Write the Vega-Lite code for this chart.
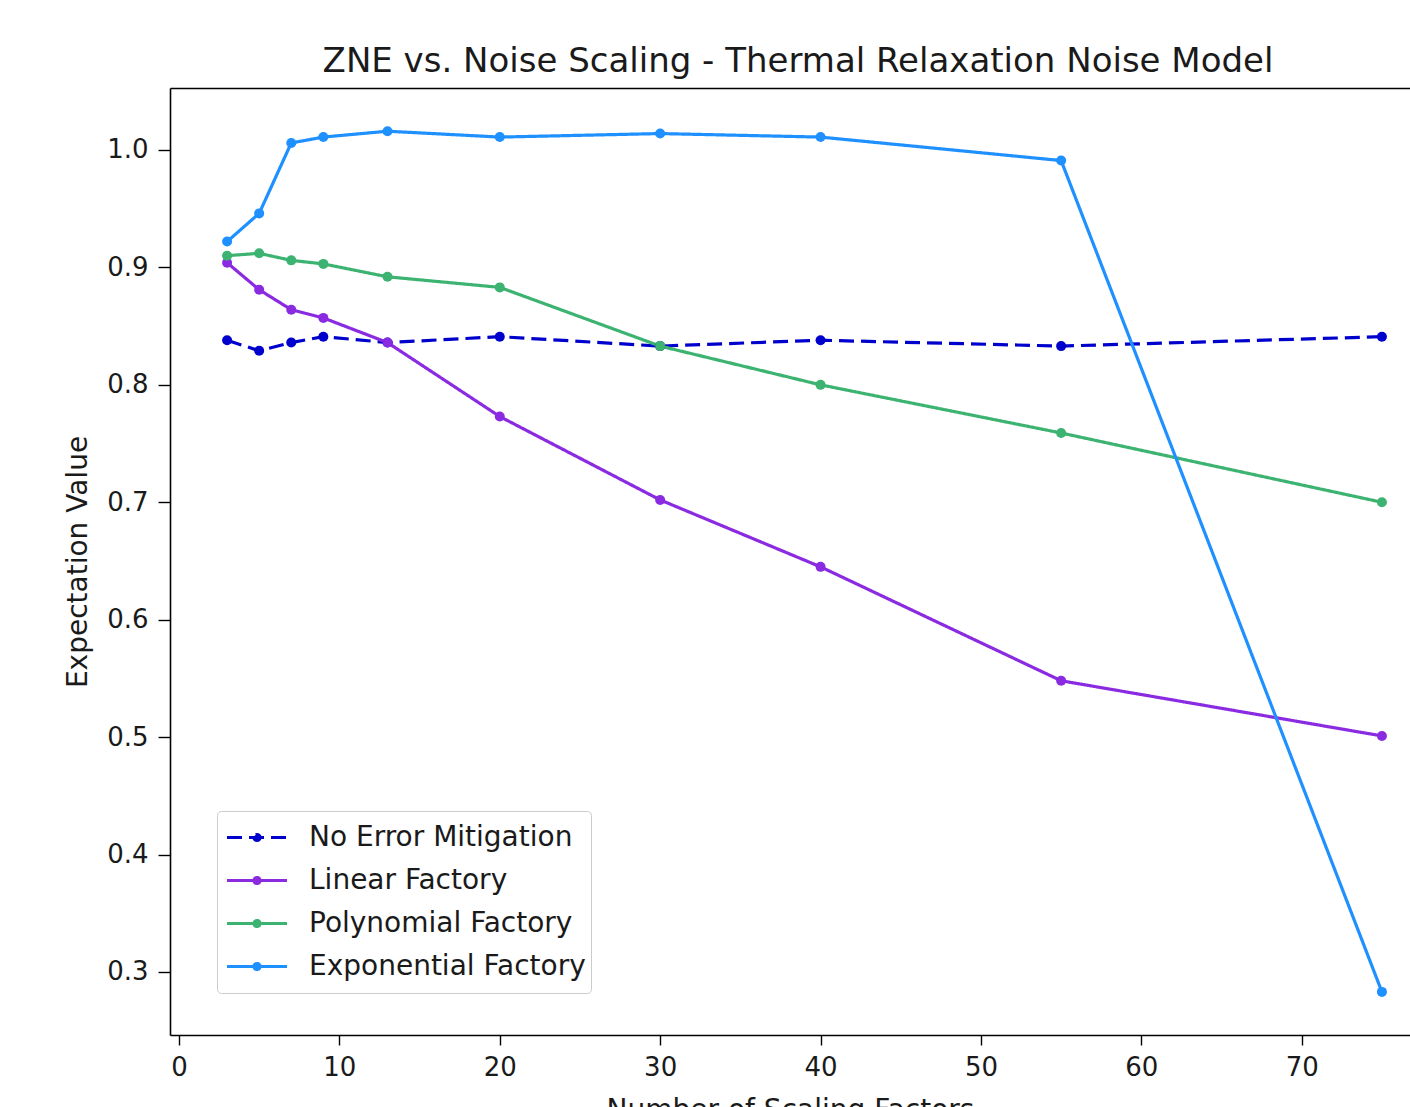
{
  "$schema": "https://vega.github.io/schema/vega-lite/v6.json",
  "autosize": "none",
  "width": 1240,
  "height": 947,
  "padding": {"left": 170, "top": 88, "right": 0, "bottom": 72},
  "background": "white",
  "config": {
    "view": {"stroke": null},
    "font": "DejaVu Sans",
    "axis": {
      "grid": false,
      "domainColor": "#000000",
      "domainWidth": 1.6,
      "tickColor": "#000000",
      "tickWidth": 1.4,
      "tickSize": 10,
      "labelFont": "DejaVu Sans",
      "labelFontSize": 26,
      "labelColor": "#1a1a1a",
      "titleFont": "DejaVu Sans",
      "titleFontSize": 28,
      "titleFontWeight": "normal",
      "titleColor": "#1a1a1a"
    }
  },
  "title": {
    "text": "ZNE vs. Noise Scaling - Thermal Relaxation Noise Model",
    "font": "DejaVu Sans",
    "fontSize": 34,
    "fontWeight": "normal",
    "color": "#1a1a1a",
    "anchor": "middle",
    "frame": "group",
    "baseline": "alphabetic",
    "offset": -18,
    "dx": 8
  },
  "data": {
    "values": [
      {"series": "No Error Mitigation", "factors": 3, "value": 0.838},
      {"series": "No Error Mitigation", "factors": 5, "value": 0.829},
      {"series": "No Error Mitigation", "factors": 7, "value": 0.836},
      {"series": "No Error Mitigation", "factors": 9, "value": 0.841},
      {"series": "No Error Mitigation", "factors": 13, "value": 0.836},
      {"series": "No Error Mitigation", "factors": 20, "value": 0.841},
      {"series": "No Error Mitigation", "factors": 30, "value": 0.833},
      {"series": "No Error Mitigation", "factors": 40, "value": 0.838},
      {"series": "No Error Mitigation", "factors": 55, "value": 0.833},
      {"series": "No Error Mitigation", "factors": 75, "value": 0.841},
      {"series": "Linear Factory", "factors": 3, "value": 0.904},
      {"series": "Linear Factory", "factors": 5, "value": 0.881},
      {"series": "Linear Factory", "factors": 7, "value": 0.864},
      {"series": "Linear Factory", "factors": 9, "value": 0.857},
      {"series": "Linear Factory", "factors": 13, "value": 0.836},
      {"series": "Linear Factory", "factors": 20, "value": 0.773},
      {"series": "Linear Factory", "factors": 30, "value": 0.702},
      {"series": "Linear Factory", "factors": 40, "value": 0.645},
      {"series": "Linear Factory", "factors": 55, "value": 0.548},
      {"series": "Linear Factory", "factors": 75, "value": 0.501},
      {"series": "Polynomial Factory", "factors": 3, "value": 0.910},
      {"series": "Polynomial Factory", "factors": 5, "value": 0.912},
      {"series": "Polynomial Factory", "factors": 7, "value": 0.906},
      {"series": "Polynomial Factory", "factors": 9, "value": 0.903},
      {"series": "Polynomial Factory", "factors": 13, "value": 0.892},
      {"series": "Polynomial Factory", "factors": 20, "value": 0.883},
      {"series": "Polynomial Factory", "factors": 30, "value": 0.833},
      {"series": "Polynomial Factory", "factors": 40, "value": 0.800},
      {"series": "Polynomial Factory", "factors": 55, "value": 0.759},
      {"series": "Polynomial Factory", "factors": 75, "value": 0.700},
      {"series": "Exponential Factory", "factors": 3, "value": 0.922},
      {"series": "Exponential Factory", "factors": 5, "value": 0.946},
      {"series": "Exponential Factory", "factors": 7, "value": 1.006},
      {"series": "Exponential Factory", "factors": 9, "value": 1.011},
      {"series": "Exponential Factory", "factors": 13, "value": 1.016},
      {"series": "Exponential Factory", "factors": 20, "value": 1.011},
      {"series": "Exponential Factory", "factors": 30, "value": 1.014},
      {"series": "Exponential Factory", "factors": 40, "value": 1.011},
      {"series": "Exponential Factory", "factors": 55, "value": 0.991},
      {"series": "Exponential Factory", "factors": 75, "value": 0.283}
    ]
  },
  "layer": [
    {
      "mark": {"type": "line", "strokeWidth": 3.2},
      "encoding": {
        "x": {
          "field": "factors",
          "type": "quantitative",
          "scale": {"domain": [-0.56, 76.75], "nice": false, "zero": false},
          "axis": {
            "orient": "bottom",
            "values": [0, 10, 20, 30, 40, 50, 60, 70],
            "labelPadding": 9,
            "title": "Number of Scaling Factors",
            "titlePadding": 16
          }
        },
        "y": {
          "field": "value",
          "type": "quantitative",
          "scale": {"domain": [0.2463, 1.0528], "nice": false, "zero": false},
          "axis": {
            "orient": "left",
            "values": [0.3, 0.4, 0.5, 0.6, 0.7, 0.8, 0.9, 1.0],
            "format": ".1f",
            "tickSize": 12,
            "labelPadding": 10,
            "title": "Expectation Value",
            "titlePadding": 14
          }
        },
        "color": {
          "field": "series",
          "type": "nominal",
          "scale": {
            "domain": ["No Error Mitigation", "Linear Factory", "Polynomial Factory", "Exponential Factory"],
            "range": ["#0000CD", "#8A2BE2", "#3CB371", "#1E90FF"]
          },
          "legend": {
            "orient": "none",
            "legendX": 47,
            "legendY": 723,
            "title": null,
            "symbolType": "M-0.1,0A0.1,0.1 0 1,0 0.1,0A0.1,0.1 0 1,0 -0.1,0M-1,0H1",
            "symbolSize": 3600,
            "symbolStrokeWidth": 3.2,
            "symbolOffset": 3,
            "labelFont": "DejaVu Sans",
            "labelFontSize": 28,
            "labelColor": "#1a1a1a",
            "labelOffset": 20,
            "labelLimit": 500,
            "clipHeight": 43,
            "rowPadding": 0,
            "padding": 5,
            "strokeColor": "#cccccc",
            "fillColor": "#ffffff",
            "cornerRadius": 4
          }
        },
        "strokeDash": {
          "field": "series",
          "type": "nominal",
          "scale": {
            "domain": ["No Error Mitigation", "Linear Factory", "Polynomial Factory", "Exponential Factory"],
            "range": [[15, 7], [1, 0], [1, 0], [1, 0]]
          },
          "legend": {
            "orient": "none",
            "legendX": 47,
            "legendY": 723,
            "title": null,
            "symbolType": "M-0.1,0A0.1,0.1 0 1,0 0.1,0A0.1,0.1 0 1,0 -0.1,0M-1,0H1",
            "symbolSize": 3600,
            "symbolStrokeWidth": 3.2,
            "symbolOffset": 3,
            "labelFont": "DejaVu Sans",
            "labelFontSize": 28,
            "labelColor": "#1a1a1a",
            "labelOffset": 20,
            "labelLimit": 500,
            "clipHeight": 43,
            "rowPadding": 0,
            "padding": 5,
            "strokeColor": "#cccccc",
            "fillColor": "#ffffff",
            "cornerRadius": 4
          }
        }
      }
    },
    {
      "mark": {"type": "point", "filled": true, "size": 100, "opacity": 1},
      "encoding": {
        "x": {
          "field": "factors",
          "type": "quantitative",
          "axis": {"orient": "top", "labels": false, "ticks": false, "title": null, "domain": true}
        },
        "y": {
          "field": "value",
          "type": "quantitative",
          "axis": {
            "orient": "left",
            "values": [0.3, 0.4, 0.5, 0.6, 0.7, 0.8, 0.9, 1.0],
            "format": ".1f",
            "tickSize": 12,
            "labelPadding": 10,
            "title": "Expectation Value",
            "titlePadding": 14
          }
        },
        "color": {"field": "series", "type": "nominal", "legend": null}
      }
    }
  ]
}
